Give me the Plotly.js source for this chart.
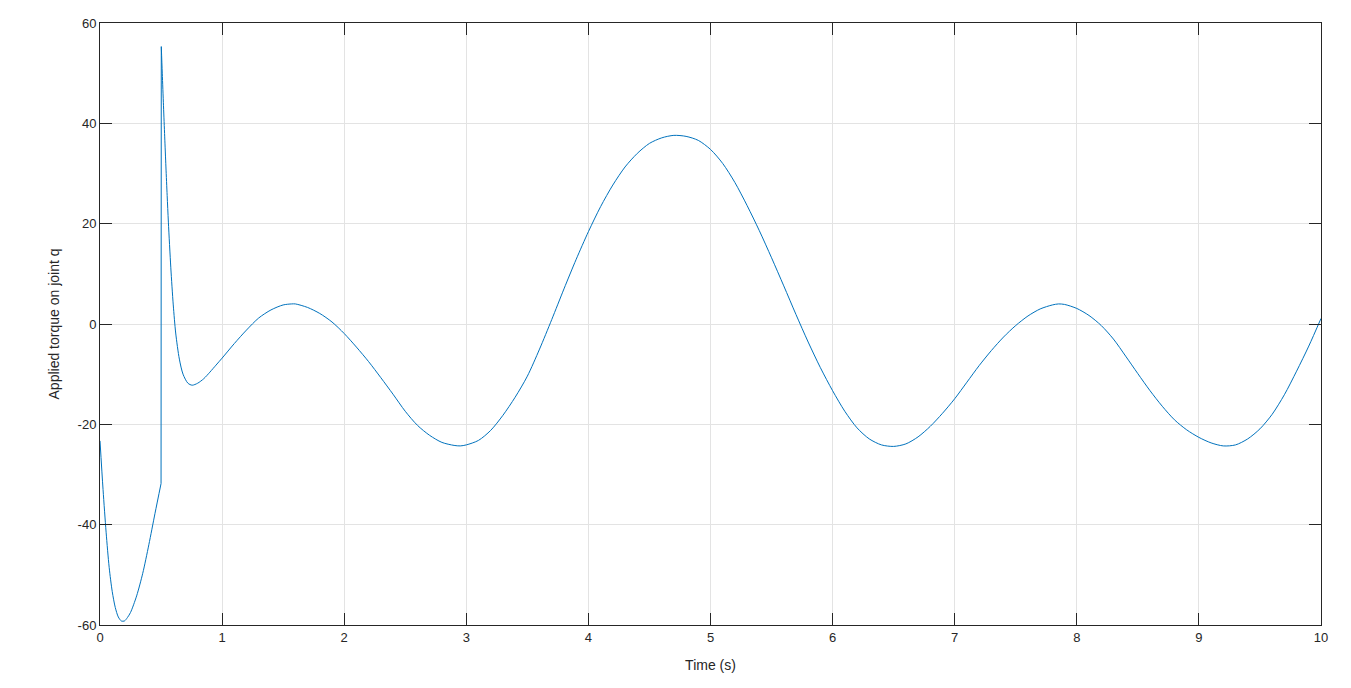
<!DOCTYPE html>
<html>
<head>
<meta charset="utf-8">
<script src="https://cdn.plot.ly/plotly-3.0.1.min.js"></script>
<style>html,body{margin:0;padding:0;background:#fff;}#chart{width:1351px;height:688px;}</style>
</head>
<body>
<div id="chart"></div>
<script>
// Time (s)
const timeS = [
  0, 0.025, 0.05, 0.075, 0.1, 0.125, 0.15, 0.175, 0.2, 0.225, 0.25, 0.3, 0.35, 0.4, 0.45, 0.5,
  0.502, 0.51, 0.52, 0.53, 0.54, 0.55, 0.56, 0.58, 0.6, 0.62, 0.65, 0.68, 0.72, 0.755, 0.8, 0.85, 0.9, 0.95,
  1.0, 1.1, 1.2, 1.3, 1.4, 1.5, 1.57, 1.6, 1.7, 1.8, 1.9,
  2.0, 2.1, 2.2, 2.3, 2.4, 2.5, 2.6, 2.7, 2.8, 2.9, 2.95,
  3.0, 3.1, 3.2, 3.3, 3.4, 3.5, 3.6, 3.7, 3.8, 3.9,
  4.0, 4.1, 4.2, 4.3, 4.4, 4.5, 4.6, 4.7, 4.8, 4.9,
  5.0, 5.1, 5.2, 5.3, 5.4, 5.5, 5.6, 5.7, 5.8, 5.9,
  6.0, 6.1, 6.2, 6.3, 6.4, 6.5, 6.6, 6.7, 6.8, 6.9,
  7.0, 7.1, 7.2, 7.3, 7.4, 7.5, 7.6, 7.7, 7.8, 7.85, 7.9,
  8.0, 8.1, 8.2, 8.3, 8.4, 8.5, 8.6, 8.7, 8.8, 8.9,
  9.0, 9.1, 9.2, 9.3, 9.4, 9.5, 9.6, 9.7, 9.8, 9.9, 10.0
];
// Applied torque on joint q
const torque = [
  -23.3, -33.0, -41.5, -48.5, -53.3, -56.5, -58.4, -59.2, -59.2, -58.5, -57.5, -54.2, -49.7, -44.0, -37.8, -31.8,
  55.3, 50.0, 43.5, 37.3, 31.3, 25.6, 20.3, 11.2, 3.8, -1.8, -7.0, -10.0, -11.8, -12.2, -11.8, -10.9, -9.6, -8.2,
  -6.8, -3.9, -1.2, 1.2, 2.8, 3.8, 4.0, 4.0, 3.3, 2.1, 0.4,
  -1.9, -4.6, -7.5, -10.7, -14.0, -17.4, -20.2, -22.2, -23.6, -24.2, -24.3,
  -24.1, -23.2, -21.2, -18.2, -14.6, -10.4, -5.0, 0.9, 7.0, 12.9,
  18.4, 23.4, 27.7, 31.3, 34.0, 36.0, 37.1, 37.6, 37.4, 36.6,
  34.8, 32.0, 28.2, 23.6, 18.6, 13.2, 7.6, 1.9, -3.6, -8.7,
  -13.3, -17.4, -20.7, -22.9, -24.1, -24.4, -23.9, -22.5, -20.4, -17.8,
  -14.9, -11.6, -8.3, -5.3, -2.6, -0.3, 1.6, 3.0, 3.8, 4.0, 3.9,
  3.1, 1.7, -0.3, -3.0, -6.4, -9.9, -13.3, -16.4, -19.1, -21.1,
  -22.6, -23.7, -24.3, -24.1, -22.9, -20.9, -18.0, -14.1, -9.4, -4.4, 1.1
];
const xTicks = [0, 1, 2, 3, 4, 5, 6, 7, 8, 9, 10];
const yTicks = [-60, -40, -20, 0, 20, 40, 60];

// index of the sample just before the step at t = 0.5 s
const jumpIdx = timeS.indexOf(0.5);

const axisCommon = {
  showline: true, linecolor: '#262626', linewidth: 1, mirror: 'allticks',
  ticks: 'inside', ticklen: 12, tickwidth: 1, tickcolor: '#262626',
  showgrid: true, gridcolor: '#e3e3e3', gridwidth: 1, zeroline: false,
  tickfont: {family: 'Liberation Sans, Arial, sans-serif', size: 13, color: '#262626'}
};

const lineStyle = {color: '#0072BD', width: 1};
const traces = [
  {x: timeS.slice(0, jumpIdx + 1), y: torque.slice(0, jumpIdx + 1), line: Object.assign({shape: 'spline', smoothing: 0.8}, lineStyle)},
  {x: timeS.slice(jumpIdx, jumpIdx + 2), y: torque.slice(jumpIdx, jumpIdx + 2), line: Object.assign({shape: 'linear'}, lineStyle)},
  {x: timeS.slice(jumpIdx + 1), y: torque.slice(jumpIdx + 1), line: Object.assign({shape: 'spline', smoothing: 0.8}, lineStyle)}
].map(t => Object.assign({type: 'scatter', mode: 'lines', hoverinfo: 'skip'}, t));

Plotly.newPlot('chart', traces, {
  width: 1351, height: 688,
  margin: {l: 100, r: 30, t: 23, b: 63},
  paper_bgcolor: '#ffffff', plot_bgcolor: '#ffffff',
  showlegend: false,
  xaxis: Object.assign({}, axisCommon, {
    range: [0, 10], tickvals: xTicks, ticktext: xTicks.map(String),
    title: {text: 'Time (s)', font: {family: 'Liberation Sans, Arial, sans-serif', size: 14, color: '#262626'}, standoff: 16}
  }),
  yaxis: Object.assign({}, axisCommon, {
    range: [-60, 60], tickvals: yTicks, ticktext: yTicks.map(String),
    title: {text: 'Applied torque on joint q', font: {family: 'Liberation Sans, Arial, sans-serif', size: 14, color: '#262626'}, standoff: 14}
  })
}, {displayModeBar: false, staticPlot: true});
</script>
</body>
</html>
